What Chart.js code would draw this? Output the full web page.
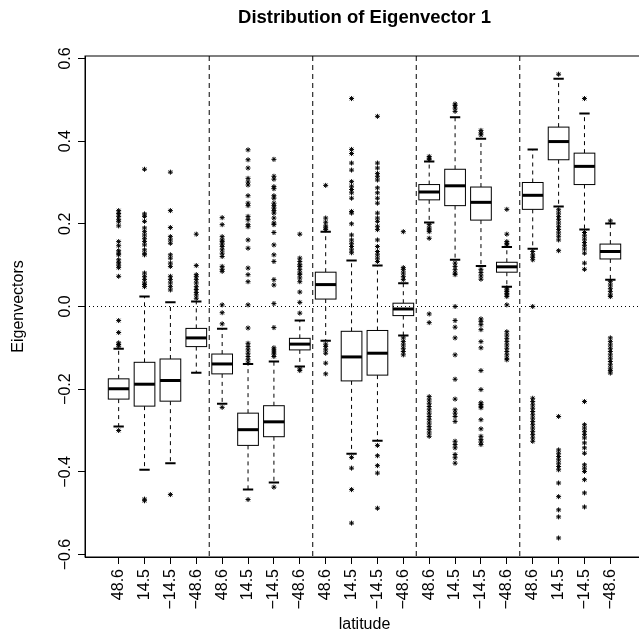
<!DOCTYPE html>
<html>
<head>
<meta charset="utf-8">
<script src="https://cdn.jsdelivr.net/npm/chart.js@4/dist/chart.umd.min.js"></script>
<style>
  html, body { margin: 0; padding: 0; background: #fff; overflow: hidden; }
</style>
</head>
<body>
<canvas id="chart" width="660" height="632"></canvas>
<script>
// four latitudes repeated for five groups
const latitudes = ["48.6", "14.5", "\u221214.5", "\u221248.6"];
const tickLabels = [];
for (let g = 0; g < 5; g++) tickLabels.push(...latitudes);

// box statistics, one value per box (20 boxes)
const whiskerLow  = [-0.290, -0.395, -0.379, -0.160, -0.235, -0.443, -0.426, -0.145, -0.083, -0.356,
                     -0.325, -0.070,  0.203,  0.113,  0.098,  0.048,  0.140,  0.242,  0.186,  0.065];
const q1          = [-0.224, -0.241, -0.229, -0.097, -0.163, -0.336, -0.315, -0.105,  0.018, -0.180,
                     -0.166, -0.022,  0.258,  0.244,  0.209,  0.083,  0.235,  0.355,  0.295,  0.115];
const medians     = [-0.199, -0.188, -0.179, -0.076, -0.139, -0.298, -0.279, -0.091,  0.053, -0.122,
                     -0.113, -0.006,  0.277,  0.292,  0.252,  0.096,  0.269,  0.399,  0.339,  0.133];
const q3          = [-0.175, -0.135, -0.127, -0.053, -0.115, -0.258, -0.240, -0.077,  0.083, -0.060,
                     -0.058,  0.008,  0.295,  0.332,  0.289,  0.107,  0.300,  0.434,  0.371,  0.151];
const whiskerHigh = [-0.102,  0.024,  0.010,  0.012, -0.054, -0.139, -0.133, -0.034,  0.181,  0.111,
                      0.099,  0.056,  0.351,  0.458,  0.406,  0.144,  0.380,  0.551,  0.467,  0.201];

const outliers = [
  [-0.300, -0.096, -0.092, -0.088, -0.063, -0.034, 0.073, 0.094, 0.100, 0.106, 0.113, 0.125, 0.129, 0.135, 0.147, 0.157, 0.195, 0.205, 0.210, 0.218, 0.225, 0.232],
  [-0.470, -0.466, 0.048, 0.053, 0.057, 0.065, 0.073, 0.081, 0.125, 0.129, 0.137, 0.149, 0.157, 0.165, 0.173, 0.181, 0.190, 0.206, 0.218, 0.224, 0.332],
  [-0.455, 0.040, 0.048, 0.057, 0.065, 0.073, 0.097, 0.105, 0.117, 0.125, 0.153, 0.161, 0.169, 0.191, 0.232, 0.325],
  [0.020, 0.028, 0.034, 0.041, 0.048, 0.057, 0.065, 0.072, 0.077, 0.099, 0.175],
  [-0.244, -0.042, -0.015, 0.004, 0.085, 0.090, 0.097, 0.121, 0.129, 0.137, 0.145, 0.151, 0.157, 0.161, 0.169, 0.198, 0.215],
  [-0.467, -0.137, -0.129, -0.121, -0.113, -0.105, -0.097, -0.089, -0.052, 0.004, 0.060, 0.077, 0.093, 0.141, 0.161, 0.193, 0.198, 0.210, 0.218, 0.244, 0.250, 0.268, 0.294, 0.301, 0.310, 0.335, 0.355, 0.379],
  [-0.437, -0.121, -0.115, -0.110, -0.105, -0.100, -0.051, 0.007, 0.052, 0.065, 0.109, 0.125, 0.149, 0.179, 0.198, 0.202, 0.214, 0.226, 0.232, 0.238, 0.244, 0.250, 0.262, 0.268, 0.285, 0.290, 0.308, 0.315, 0.356],
  [-0.155, -0.151, -0.016, 0.010, 0.035, 0.060, 0.069, 0.077, 0.081, 0.089, 0.097, 0.101, 0.109, 0.117, 0.175],
  [-0.163, -0.137, -0.113, -0.105, -0.097, -0.091, 0.186, 0.190, 0.195, 0.204, 0.214, 0.293],
  [-0.524, -0.443, -0.391, -0.365, 0.130, 0.137, 0.145, 0.153, 0.161, 0.173, 0.200, 0.226, 0.230, 0.262, 0.275, 0.283, 0.291, 0.302, 0.330, 0.347, 0.370, 0.380, 0.503],
  [-0.488, -0.403, -0.385, -0.361, -0.336, 0.109, 0.117, 0.125, 0.133, 0.145, 0.161, 0.186, 0.194, 0.206, 0.214, 0.226, 0.250, 0.262, 0.275, 0.287, 0.306, 0.314, 0.322, 0.335, 0.347, 0.460],
  [-0.117, -0.109, -0.101, -0.093, -0.085, -0.076, 0.065, 0.073, 0.081, 0.089, 0.094, 0.181],
  [-0.314, -0.306, -0.298, -0.290, -0.282, -0.274, -0.266, -0.258, -0.250, -0.242, -0.234, -0.226, -0.218, -0.039, -0.018, 0.165, 0.181, 0.185, 0.190, 0.198, 0.355, 0.359, 0.363],
  [-0.379, -0.366, -0.358, -0.342, -0.334, -0.326, -0.278, -0.266, -0.258, -0.250, -0.224, -0.176, -0.117, -0.076, -0.050, -0.034, 0.000, 0.077, 0.081, 0.089, 0.097, 0.105, 0.472, 0.480, 0.486, 0.490],
  [-0.334, -0.328, -0.322, -0.314, -0.296, -0.274, -0.245, -0.241, -0.237, -0.233, -0.201, -0.155, -0.100, -0.085, -0.056, -0.044, -0.036, -0.030, 0.066, 0.074, 0.082, 0.090, 0.415, 0.420, 0.426],
  [-0.129, -0.125, -0.117, -0.109, -0.101, -0.093, -0.085, -0.077, -0.069, -0.061, 0.004, 0.024, 0.028, 0.032, 0.036, 0.040, 0.045, 0.149, 0.153, 0.157, 0.175, 0.235],
  [-0.326, -0.318, -0.310, -0.302, -0.294, -0.286, -0.278, -0.270, -0.262, -0.254, -0.246, -0.238, -0.230, -0.222, 0.000, 0.113, 0.119, 0.125, 0.133],
  [-0.560, -0.509, -0.492, -0.460, -0.427, -0.395, -0.387, -0.379, -0.371, -0.363, -0.355, -0.347, -0.266, 0.135, 0.161, 0.170, 0.178, 0.186, 0.194, 0.202, 0.210, 0.218, 0.226, 0.234, 0.562],
  [-0.485, -0.451, -0.419, -0.399, -0.391, -0.383, -0.355, -0.342, -0.330, -0.318, -0.310, -0.302, -0.294, -0.286, -0.230, 0.090, 0.105, 0.129, 0.139, 0.147, 0.155, 0.163, 0.171, 0.179, 0.503],
  [-0.161, -0.155, -0.149, -0.141, -0.133, -0.125, -0.117, -0.109, -0.101, -0.093, -0.085, -0.076, 0.024, 0.028, 0.036, 0.044, 0.052, 0.060, 0.207]
];

// dashed lines between the groups of four
const groupBreaks = [4.5, 8.5, 12.5, 16.5];

const positions = tickLabels.map((_, i) => i + 1);
const outlierPoints = [];
outliers.forEach((list, i) => list.forEach(v => outlierPoints.push({ x: positions[i], y: v })));

Chart.defaults.font.family = "'Liberation Sans', Arial, Helvetica, sans-serif";
Chart.defaults.color = "#000";

const boxPlugin = {
  id: "boxes",
  beforeDatasetsDraw(chart) {
    const { ctx, chartArea: a, scales: { x, y } } = chart;
    const halfBox = x.getPixelForValue(1.4) - x.getPixelForValue(1);
    const halfStaple = halfBox / 2;
    ctx.save();
    ctx.strokeStyle = "#000";

    positions.forEach((p, i) => {
      const cx = x.getPixelForValue(p);
      const yLo = y.getPixelForValue(whiskerLow[i]);
      const yQ1 = y.getPixelForValue(q1[i]);
      const yMed = y.getPixelForValue(medians[i]);
      const yQ3 = y.getPixelForValue(q3[i]);
      const yHi = y.getPixelForValue(whiskerHigh[i]);

      // whiskers
      ctx.lineWidth = 1;
      ctx.setLineDash([4, 4]);
      ctx.beginPath();
      ctx.moveTo(cx, yQ1); ctx.lineTo(cx, yLo);
      ctx.moveTo(cx, yQ3); ctx.lineTo(cx, yHi);
      ctx.stroke();
      ctx.setLineDash([]);

      // staples
      ctx.lineWidth = 2;
      ctx.beginPath();
      ctx.moveTo(cx - halfStaple, yLo); ctx.lineTo(cx + halfStaple, yLo);
      ctx.moveTo(cx - halfStaple, yHi); ctx.lineTo(cx + halfStaple, yHi);
      ctx.stroke();

      // box
      ctx.lineWidth = 1;
      ctx.fillStyle = "#fff";
      ctx.fillRect(cx - halfBox, yQ3, halfBox * 2, yQ1 - yQ3);
      ctx.strokeRect(cx - halfBox, yQ3, halfBox * 2, yQ1 - yQ3);

      // median
      ctx.lineWidth = 3;
      ctx.beginPath();
      ctx.moveTo(cx - halfBox, yMed); ctx.lineTo(cx + halfBox, yMed);
      ctx.stroke();
    });

    // zero line (dotted) and group separators (dashed)
    ctx.lineWidth = 1;
    ctx.setLineDash([1, 3]);
    const y0 = y.getPixelForValue(0);
    ctx.beginPath();
    ctx.moveTo(a.left, y0); ctx.lineTo(a.right, y0);
    ctx.stroke();
    ctx.setLineDash([5, 4]);
    ctx.beginPath();
    groupBreaks.forEach(b => {
      const bx = x.getPixelForValue(b);
      ctx.moveTo(bx, a.top); ctx.lineTo(bx, a.bottom);
    });
    ctx.stroke();
    ctx.restore();
  },
  afterDraw(chart) {
    const { ctx, chartArea: a } = chart;
    ctx.save();
    ctx.strokeStyle = "#000";
    ctx.lineWidth = 1;
    ctx.strokeRect(a.left, a.top, a.right - a.left, a.bottom - a.top);
    ctx.restore();
  }
};

new Chart(document.getElementById("chart"), {
  type: "scatter",
  data: {
    datasets: [{
      label: "outliers",
      data: outlierPoints,
      pointStyle: "star",
      pointRadius: 2.5,
      borderColor: "#000",
      backgroundColor: "#000",
      borderWidth: 1
    }]
  },
  options: {
    responsive: false,
    animation: false,
    layout: { padding: { left: 0, right: 16, top: 0, bottom: 0 } },
    plugins: {
      legend: { display: false },
      tooltip: { enabled: false },
      title: {
        display: true,
        text: "Distribution of Eigenvector 1",
        fullSize: false,
        font: { size: 18.5, weight: "bold" },
        padding: { top: 7, bottom: 26.8 }
      }
    },
    scales: {
      x: {
        type: "linear",
        min: -0.3,
        max: 21.3,
        afterBuildTicks: s => { s.ticks = positions.map(v => ({ value: v })); },
        afterFit: s => { s.height = 75; },
        ticks: {
          autoSkip: false,
          minRotation: 90,
          maxRotation: 90,
          padding: 5,
          font: { size: 16 },
          callback: (v, i) => tickLabels[i]
        },
        grid: { drawOnChartArea: false, tickLength: 7, color: "#000" },
        border: { color: "#000" },
        title: { display: true, text: "latitude", font: { size: 16 }, padding: { top: 0, bottom: -2 } }
      },
      y: {
        min: -0.606,
        max: 0.606,
        afterFit: s => { s.width = 85; },
        ticks: {
          stepSize: 0.2,
          includeBounds: false,
          minRotation: 90,
          maxRotation: 90,
          crossAlign: "center",
          padding: -3,
          font: { size: 16 },
          callback: v => (Math.abs(v) < 1e-9 ? "0.0" : v.toFixed(1).replace("-", "\u2212"))
        },
        grid: { drawOnChartArea: false, tickLength: 7, color: "#000" },
        border: { color: "#000" },
        title: { display: true, text: "Eigenvectors", font: { size: 16 }, padding: { top: 9, bottom: 0 } }
      }
    }
  },
  plugins: [boxPlugin]
});
</script>
</body>
</html>
